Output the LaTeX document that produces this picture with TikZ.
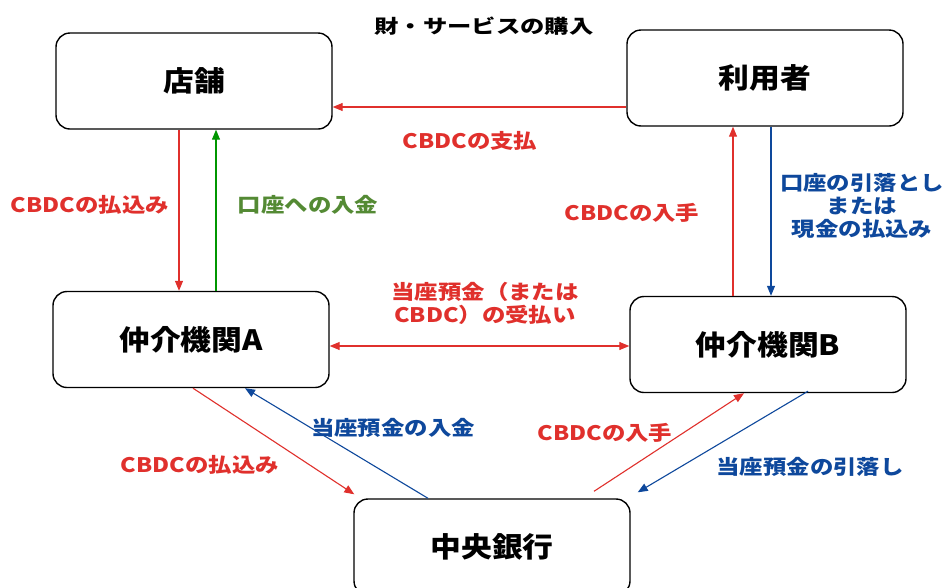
\documentclass[tikz,border=0pt]{standalone}
\usepackage{fontspec}
\setmainfont{Noto Sans CJK JP}
\usepackage{graphicx}
\usetikzlibrary{arrows.meta}
\definecolor{cred}{RGB}{224,48,44}
\definecolor{cblue}{RGB}{14,72,156}
\definecolor{cgreen}{RGB}{0,150,0}
\definecolor{tgreen}{RGB}{84,138,52}
\newcommand{\hs}[1]{\scalebox{1.17}[1]{#1}}
\newcommand{\hb}[1]{\scalebox{1.1}[1]{#1}}
\tikzset{
  box/.style={draw=black, line width=1.4pt, rounded corners=14pt, minimum width=276pt, minimum height=96pt, font=\fontsize{28}{32}\selectfont\bfseries},
  lbl/.style={font=\fontsize{20}{23}\selectfont\bfseries, align=center, inner sep=0pt},
  arr/.style={line width=1.1pt, -{Triangle[length=10pt,width=8pt]}},
  darr/.style={line width=1.1pt, {Triangle[length=10pt,width=8pt]}-{Triangle[length=10pt,width=8pt]}}
}
\begin{document}
\begin{tikzpicture}[x=1pt,y=-1pt]
\useasboundingbox (0,0) rectangle (945,587);
\fill[white] (0,0) rectangle (945,587);
% boxes
\node[box] (shop) at (194,81) {\hb{店舗}};
\node[box] (user) at (765,78) {\hb{利用者}};
\node[box] (A) at (191,339.5) {\hb{仲介機関A}};
\node[box] (B) at (768,344.5) {\hb{仲介機関B}};
\node[box] (bank) at (492,547) {\hb{中央銀行}};
% arrows
\draw[arr, cred] ([yshift=-29pt]user.west) -- ([yshift=-29pt]user.west -| shop.east);
\draw[arr, cred] ([xshift=-15pt]shop.south) -- ([xshift=-15pt]shop.south |- A.north);
\draw[arr, cgreen] ([xshift=25pt]A.north) -- ([xshift=25pt]A.north |- shop.south);
\draw[arr, cred] ([xshift=-35pt]B.north) -- ([xshift=-35pt]B.north |- user.south);
\draw[arr, cblue] ([xshift=6pt]user.south) -- ([xshift=6pt]user.south |- B.north);
\draw[darr, cred] ([yshift=-6.5pt]A.east) -- ([yshift=-6.5pt]A.east -| B.west);
\draw[arr, cred] ([xshift=2pt]A.south) -- ([xshift=1pt,yshift=4pt]bank.north west);
\draw[arr, cblue] ([xshift=-64pt]bank.north) -- ([xshift=54pt]A.south);
\draw[arr, cred] ([xshift=102pt,yshift=7pt]bank.north) -- ([xshift=-24pt]B.south);
\draw[arr, cblue] ([xshift=40pt,yshift=2pt]B.south) -- ([xshift=7pt,yshift=6pt]bank.north east);
% labels
\node[lbl, font=\fontsize{19}{22}\selectfont\bfseries, text=black] (t0) at (484,26) {\scalebox{1.28}[1]{財・サービスの購入}};
\node[lbl, text=cred] (t1) at (470,141) {\hs{CBDCの支払}};
\node[lbl, text=cred] (t2) at (90,205) {\hs{CBDCの払込み}};
\node[lbl, text=tgreen] (t3) at (308,205) {\hs{口座への入金}};
\node[lbl, text=cred] (t4) at (632,213) {\hs{CBDCの入手}};
\node[lbl, text=cblue] (t5) at (862,206) {\hs{口座の引落とし}\\\hs{または}\\\hs{現金の払込み}};
\node[lbl, text=cred] (t6) at (485,303) {\hs{当座預金（または}\\\hs{CBDC）の受払い}};
\node[lbl, text=cblue] (t7) at (393,428) {\hs{当座預金の入金}};
\node[lbl, text=cred] (t8) at (200,465) {\hs{CBDCの払込み}};
\node[lbl, text=cred] (t9) at (605,433) {\hs{CBDCの入手}};
\node[lbl, text=cblue] (t10) at (810,467) {\hs{当座預金の引落し}};
\end{tikzpicture}
\end{document}
